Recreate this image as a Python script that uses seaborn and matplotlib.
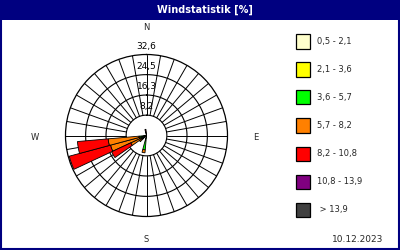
import numpy as np
import matplotlib
matplotlib.use("Agg")
import matplotlib.pyplot as plt
from matplotlib.patches import Rectangle
import seaborn as sns

# ---- data ----
title = "Windstatistik [%]"
date_label = "10.12.2023"
speed_classes = ["0,5 - 2,1", "2,1 - 3,6", "3,6 - 5,7", "5,7 - 8,2",
                 "8,2 - 10,8", "10,8 - 13,9", " > 13,9"]
class_colors = ["#FFFFCC", "#FFFF00", "#00FF00", "#FF8000",
                "#FF0000", "#800080", "#404040"]
directions = [190, 230, 240, 250, 260, 350]          # compass degrees
# percent per speed class, one list per class, aligned with directions
cls_05_21 = [0.3, 0.2, 0.3, 0.4, 0.5, 0.3]
cls_21_36 = [0.7, 0.5, 0.6, 0.8, 0.8, 0.3]
cls_36_57 = [4.8, 1.3, 1.5, 1.8, 1.7, 0.4]
cls_57_82 = [1.2, 1.5, 4.6, 12.0, 12.5, 0.5]
cls_82_108 = [0.0, 0.0, 8.5, 17.2, 12.4, 1.0]
cls_108_139 = [0.0, 0.0, 0.0, 0.0, 0.0, 0.0]
cls_139 = [0.0, 0.0, 0.0, 0.0, 0.0, 0.0]
ring_values = [8.2, 16.3, 24.5, 32.6]
ring_labels = ["8,2", "16,3", "24,5", "32,6"]
compass = ["N", "E", "S", "W"]

sns.set_style("white")
plt.rcParams["font.family"] = ["DejaVu Sans"]

W, H = 400, 250
fig = plt.figure(figsize=(4, 2.5), dpi=100)
fig.patch.set_facecolor("white")
navy = "#000080"


def fx(x):
    return x / W


def fy(y):
    return 1 - y / H


# title bar and frame
fig.patches.append(Rectangle((0, fy(20)), 1, 20 / H, transform=fig.transFigure,
                             facecolor=navy, edgecolor="none", zorder=0))
fig.patches.append(Rectangle((0.002, 0.004), 0.996, 0.99, transform=fig.transFigure,
                             facecolor="none", edgecolor=navy, lw=1.5, zorder=5))
fig.text(fx(205), fy(10), title, color="white", fontsize=7, fontweight="bold",
         ha="center", va="center")

# polar axes: center (146.5,135), radius 81 px
cx, cy, R = 146.5, 135.5, 81
ax = fig.add_axes([fx(cx - R), fy(cy + R), 2 * R / W, 2 * R / H], projection="polar")
ax.set_theta_zero_location("N")
ax.set_theta_direction(-1)
ax.set_ylim(0, ring_values[-1])
ax.grid(False)
ax.set_xticks([])
ax.set_yticks([])
ax.spines["polar"].set_color("black")
ax.spines["polar"].set_linewidth(0.9)
ax.set_facecolor("white")

# grid: rings and spokes outside the inner circle
th = np.linspace(0, 2 * np.pi, 361)
for rv in ring_values[:-1]:
    ax.plot(th, np.full_like(th, rv), color="black", lw=0.8, zorder=1)
for d in range(0, 360, 10):
    t = np.deg2rad(d)
    ax.plot([t, t], [ring_values[0], ring_values[-1]], color="black", lw=0.7, zorder=1)

# stacked wedges
palette = sns.color_palette(class_colors)
classes = [cls_05_21, cls_21_36, cls_36_57, cls_57_82, cls_82_108, cls_108_139, cls_139]
theta = np.deg2rad(directions)
width = np.deg2rad(10)
bottom = np.zeros(len(directions))
for vals, col in zip(classes, palette):
    vals = np.array(vals)
    mask = vals > 0
    if mask.any():
        ax.bar(theta[mask], vals[mask], width=width, bottom=bottom[mask],
               color=col, edgecolor="black", linewidth=0.6, zorder=3)
    bottom = bottom + vals

# ring labels along north axis
for rv, lab in zip(ring_values, ring_labels):
    ax.text(0, rv + 3.3, lab, ha="center", va="center", fontsize=6.5,
            color="black", zorder=4, clip_on=False)

# compass letters
fig.text(fx(146), fy(27), "N", fontsize=6, ha="center", va="center")
fig.text(fx(256), fy(137), "E", fontsize=6, ha="center", va="center")
fig.text(fx(146), fy(239), "S", fontsize=6, ha="center", va="center")
fig.text(fx(35), fy(137), "W", fontsize=6, ha="center", va="center")

# legend
for i, (lab, col) in enumerate(zip(speed_classes, class_colors)):
    yc = 41.5 + 28 * i
    fig.patches.append(Rectangle((fx(295.5), fy(yc + 7)), 14 / W, 14 / H,
                                 transform=fig.transFigure, facecolor=col,
                                 edgecolor="black", lw=0.9))
    fig.text(fx(317), fy(yc), lab, fontsize=6, ha="left", va="center")

fig.text(fx(383), fy(239), date_label, fontsize=6.5, ha="right", va="center")

fig.savefig("out.png", dpi=100, facecolor="white")
